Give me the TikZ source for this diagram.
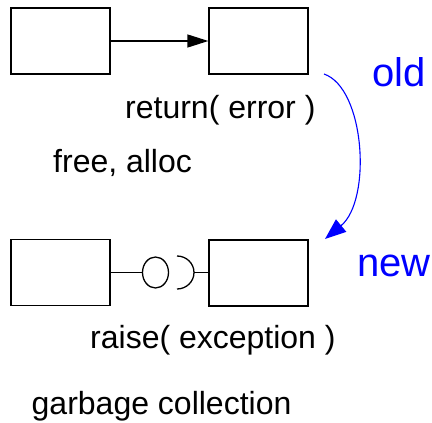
\documentclass[tikz,border=0pt]{standalone}
\usepackage{fontspec}
\setmainfont{Liberation Sans}
\usetikzlibrary{arrows.meta,shapes.geometric}
\definecolor{pureblue}{RGB}{0,0,255}
\tikzset{
  box/.style={draw, rectangle, line width=1.3pt, minimum width=99pt, minimum height=66pt, inner sep=0pt},
  lbl/.style={anchor=base west, inner sep=0pt, font=\fontsize{32}{38}\selectfont},
  bluelbl/.style={anchor=base west, inner sep=0pt, text=pureblue, font=\fontsize{40}{48}\selectfont},
  conn/.style={line width=1.3pt},
  ball/.style={draw, ellipse, line width=1.3pt, minimum width=26pt, minimum height=31pt, inner sep=0pt}
}
\begin{document}
\begin{tikzpicture}[x=1pt,y=-1pt]
\useasboundingbox (0,0) rectangle (432,423);
% top row
\node[box] (tl) at (60.5,41) {};
\node[box] (tr) at (258.5,41) {};
\draw[conn,-{Triangle[length=21pt,width=13pt]}] (tl.east) -- (tr.west);
\node[lbl] (ret) at (125,118) {return( error )};
\node[lbl] (free) at (53,172) {free, alloc};
% bottom row
\node[box] (bl) at (60.5,272.5) {};
\node[box] (br) at (258.5,273) {};
\node[ball] (ball) at (155.5,272.5) {};
\coordinate (sockettop) at (177,256);
\coordinate (socketend) at (194,272.5);
\draw[conn] (sockettop) arc[start angle=-90, end angle=90, x radius=17, y radius=16.5];
\draw[conn] (bl.east |- ball.west) -- (ball.west);
\draw[conn] (socketend) -- (br.west |- socketend);
\node[lbl] (raise) at (90,348.3) {raise( exception )};
\node[lbl] (gc) at (31.5,414) {garbage collection};
% blue annotation
\node[bluelbl] (old) at (372.5,86) {old};
\node[bluelbl] (new) at (357,276.7) {new};
\coordinate (cs) at (324,74);
\coordinate (ce) at (325,239);
\draw[pureblue,line width=1.1pt,-{Triangle[length=21pt,width=16pt]}] (cs) .. controls (365,88) and (372,200) .. (ce);
\end{tikzpicture}
\end{document}
